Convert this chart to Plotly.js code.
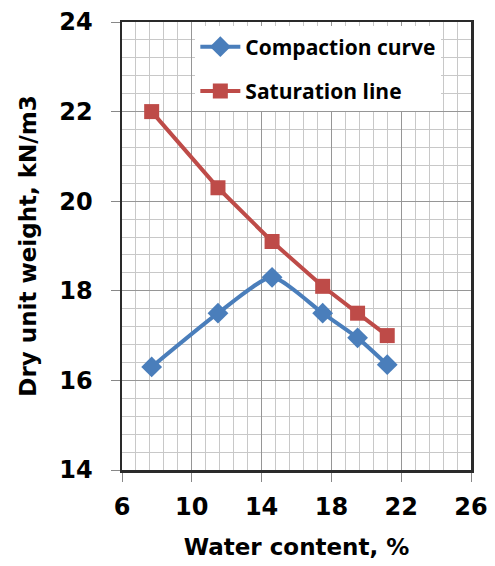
<!DOCTYPE html>
<html><head><meta charset="utf-8">
<script src="https://cdn.plot.ly/plotly-3.0.1.min.js"></script>
<style>body{margin:0;background:#fff}#c{width:495px;height:566px}</style>
</head><body><div id="c"></div>
<script>
const waterContent = [7.7, 11.5, 14.6, 17.5, 19.5, 21.2];
const compaction = [16.3, 17.5, 18.3, 17.5, 16.95, 16.35];
const saturation = [22.0, 20.3, 19.1, 18.1, 17.5, 17.0];
const xTicks = [6, 10, 14, 18, 22, 26];
const yTicks = [14, 16, 18, 20, 22, 24];

const bold = {family: 'DejaVu Sans, sans-serif', weight: 'bold', color: '#000'};
const traces = [
  {x: waterContent, y: compaction, name: 'Compaction curve', mode: 'lines+markers', legendgroup: 'a',
   line: {color: '#4A7EBB', width: 4, shape: 'spline', smoothing: 0.6},
   marker: {symbol: 'diamond', size: 16, color: '#4A7EBB'}},
  {x: waterContent, y: saturation, name: 'Saturation line', mode: 'lines+markers', legendgroup: 'b',
   line: {color: '#BE4B48', width: 4},
   marker: {symbol: 'square', size: 15, color: '#BE4B48'}}
];
const axBase = {
  showline: true, linecolor: '#2a2a2a', linewidth: 2.5, mirror: true,
  ticks: 'outside', ticklen: 9, tickcolor: '#888', tickwidth: 1,
  gridcolor: '#969696', gridwidth: 1, zeroline: false,
  tickfont: Object.assign({size: 24}, bold), tickmode: 'array'
};
const layout = {
  width: 495, height: 566,
  margin: {l: 122, r: 24, t: 22, b: 96},
  paper_bgcolor: '#fff', plot_bgcolor: '#fff',
  showlegend: true,
  legend: {x: 0.915, xanchor: 'right', y: 0.99, yanchor: 'top', bgcolor: '#fff',
    font: Object.assign({size: 21}, bold, {family: 'Open Sans, Liberation Sans, sans-serif'}),
    traceorder: 'grouped', tracegroupgap: 14, borderwidth: 0, itemwidth: 40},
  xaxis: Object.assign({}, axBase, {range: [6, 26], tickvals: xTicks, ticktext: xTicks.map(String),
    ticklabelstandoff: 5,
    minor: {dtick: 0.8, tick0: 6, showgrid: true, gridcolor: '#c8c8c8', gridwidth: 1, ticks: ''},
    title: {text: 'Water content, %', font: Object.assign({size: 23}, bold), standoff: 19}}),
  yaxis: Object.assign({}, axBase, {range: [14, 24], tickvals: yTicks, ticktext: yTicks.map(String),
    ticklabelstandoff: 13,
    minor: {dtick: 0.4, tick0: 14, showgrid: true, gridcolor: '#c8c8c8', gridwidth: 1, ticks: ''},
    title: {text: 'Dry unit weight, kN/m3', font: Object.assign({size: 23}, bold), standoff: 16}})
};
Plotly.newPlot('c', traces, layout, {displayModeBar: false, staticPlot: true});
</script></body></html>
